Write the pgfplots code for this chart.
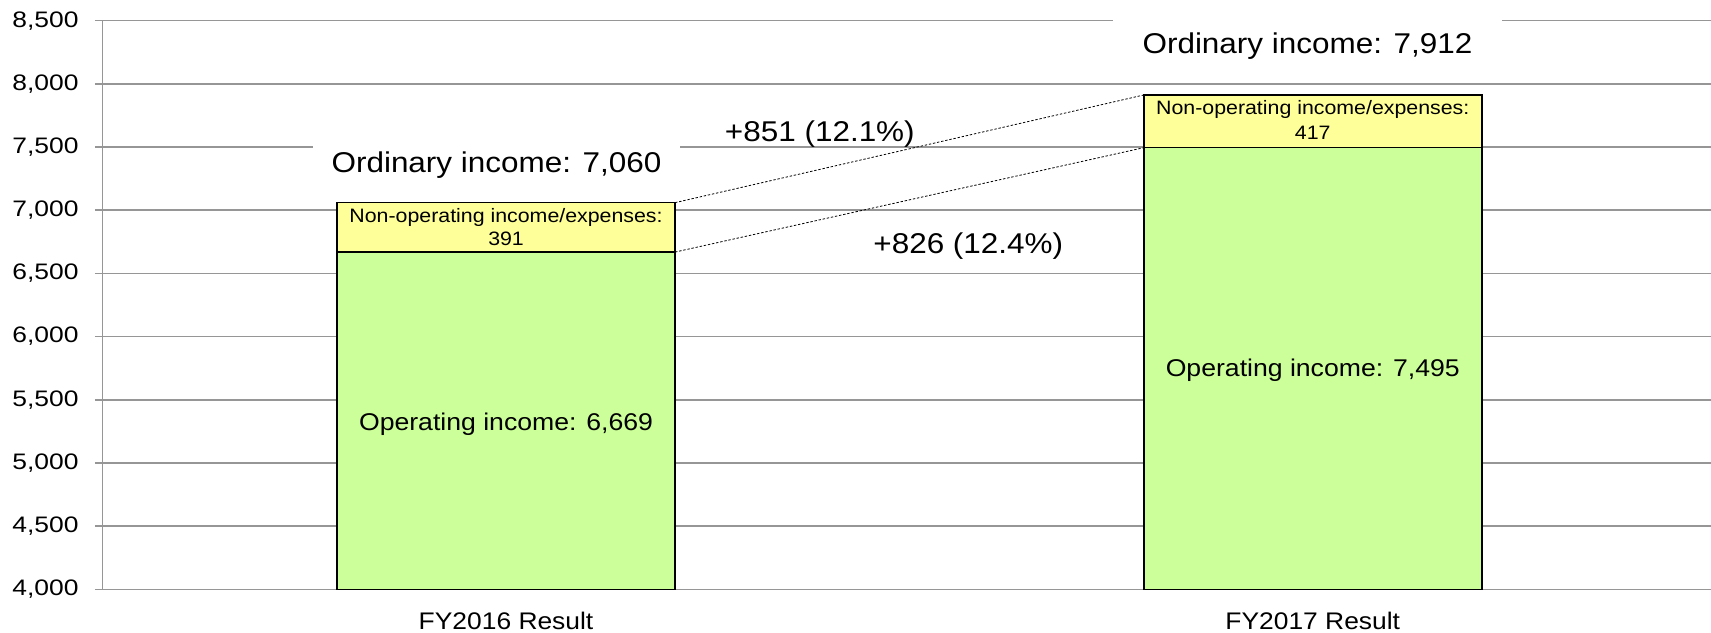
\documentclass[border=0pt]{standalone}
\usepackage{fontspec}
\setmainfont{Liberation Sans}[FakeStretch=1.1]
\newfontfamily\tickfont{Liberation Sans}[FakeStretch=1.18]
\usepackage{pgfplots}
\pgfplotsset{compat=1.18}
\definecolor{opgreen}{RGB}{204,255,153}
\definecolor{nopyellow}{RGB}{255,255,153}
\definecolor{gridgray}{RGB}{150,150,150}
\begin{document}
\begin{tikzpicture}
\begin{axis}[
  scale only axis, width=806.7pt, height=284.3pt,
  xmin=-0.5, xmax=1.5, ymin=4000, ymax=8500,
  axis x line=bottom, axis y line=left,
  axis line style={-, gridgray, line width=0.75pt},
  ytick={4000,4500,...,8500},
  scaled y ticks=false,
  ymajorgrids, grid style={gridgray, line width=0.75pt},
  ytick style={gridgray, line width=0.75pt},
  tick align=outside, major tick length=3.85pt,
  xtick={0,1}, xticklabels={FY2016 Result, FY2017 Result},
  xtick style={draw=none},
  /pgf/number format/assume math mode=true,
  /pgf/number format/1000 sep={,},
  yticklabel style={font=\tickfont\fontsize{11.2}{13}\selectfont, inner sep=0pt, anchor=east, xshift=-8pt},
  xticklabel style={font=\fontsize{12}{14}\selectfont, inner sep=0pt, anchor=base, yshift=-16.2pt},
]
\addplot[ybar, bar width=0.419, bar shift=0pt, fill=nopyellow, draw=black, line width=0.75pt] coordinates {(0,7060) (1,7912)};
\addplot[ybar, bar width=0.419, bar shift=0pt, fill=opgreen, draw=black, line width=0.75pt] coordinates {(0,6669) (1,7495)};
\addplot[black, line width=0.4pt, dash pattern=on 1.2pt off 0.9pt] coordinates {(0.2095,7060) (0.7905,7912)};
\addplot[black, line width=0.4pt, dash pattern=on 1.2pt off 0.9pt] coordinates {(0.2095,6669) (0.7905,7495)};

\node[font=\fontsize{14.3}{16}\selectfont, anchor=base, fill=white, inner sep=0pt, text height=16.3pt, text depth=6.6pt, minimum width=183.5pt] at (axis cs:-0.0118,7297) {Ordinary income: 7,060};
\node[font=\fontsize{14.3}{16}\selectfont, anchor=base, fill=white, inner sep=0pt, text height=21.5pt, text depth=10pt, minimum width=194.5pt] at (axis cs:0.9935,8244) {Ordinary income: 7,912};
\node[font=\fontsize{14.3}{16}\selectfont, anchor=base, inner sep=0pt] at (axis cs:0.389,7542) {+851 (12.1\%)};
\node[font=\fontsize{14.3}{16}\selectfont, anchor=base, inner sep=0pt] at (axis cs:0.573,6659) {+826 (12.4\%)};
\node[font=\fontsize{12.1}{14}\selectfont, anchor=base, inner sep=0pt] at (axis cs:0,5255) {Operating income: 6,669};
\node[font=\fontsize{12.1}{14}\selectfont, anchor=base, inner sep=0pt] at (axis cs:1,5683) {Operating income: 7,495};
\node[font=\fontsize{9.7}{11}\selectfont, anchor=base, inner sep=0pt] at (axis cs:0,6901) {Non-operating income/expenses:};
\node[font=\fontsize{9.7}{11}\selectfont, anchor=base, inner sep=0pt] at (axis cs:0,6717) {391};
\node[font=\fontsize{9.7}{11}\selectfont, anchor=base, inner sep=0pt] at (axis cs:1,7754) {Non-operating income/expenses:};
\node[font=\fontsize{9.7}{11}\selectfont, anchor=base, inner sep=0pt] at (axis cs:1,7556) {417};
\end{axis}
\pgfresetboundingbox
\path[use as bounding box] (-51.35pt,-21.35pt) rectangle (804.15pt,294.65pt);
\end{tikzpicture}
\end{document}
